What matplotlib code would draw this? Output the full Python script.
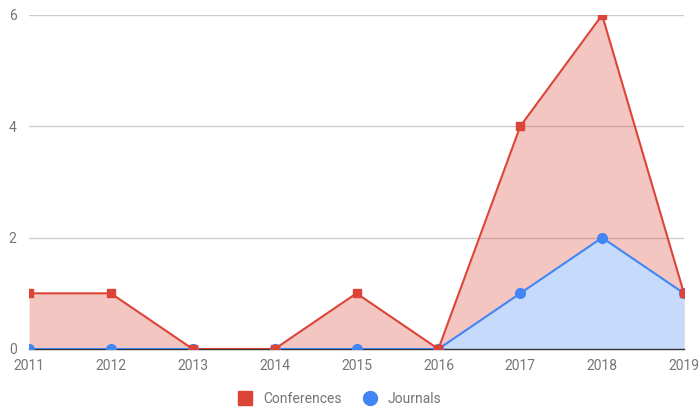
import matplotlib.pyplot as plt

years = [2011, 2012, 2013, 2014, 2015, 2016, 2017, 2018, 2019]
conferences = [1, 1, 0, 0, 1, 0, 4, 6, 1]
journals = [0, 0, 0, 0, 0, 0, 1, 2, 1]
y_ticks = [0, 2, 4, 6]

red = '#DB4437'
blue = '#4285F4'
blue_fill = '#C6DAFC'
label_color = '#757575'

plt.rcParams['font.family'] = ['Roboto', 'DejaVu Sans']

fig = plt.figure(figsize=(6.99, 4.07), dpi=100)
ax = fig.add_axes([29 / 699, 58 / 407, 655 / 699, 334 / 407])

# areas first, then lines; conferences line ends up on top
ax.fill_between(years, 0, conferences, color=red, alpha=0.3, linewidth=0, zorder=1)
ax.fill_between(years, 0, journals, color=blue_fill, linewidth=0, zorder=1.1)
ax.plot(years, conferences, color=red, linewidth=1.5, marker='s', markersize=5.5,
        label='Conferences', zorder=3)
ax.plot(years, journals, color=blue, linewidth=1.5, marker='o', markersize=7,
        label='Journals', zorder=2)

ax.set_xlim(years[0], years[-1])
ax.set_ylim(0, 6)
ax.set_xticks(years)
ax.set_yticks(y_ticks)
ax.tick_params(axis='both', length=0, labelsize=10, labelcolor=label_color)
ax.tick_params(axis='x', pad=7)
ax.tick_params(axis='y', pad=9)

ax.grid(axis='y', color='#cccccc', linewidth=1)
ax.set_axisbelow(True)
for side in ['top', 'right', 'left']:
    ax.spines[side].set_visible(False)
ax.spines['bottom'].set_color('#333333')
ax.spines['bottom'].set_linewidth(1)
ax.spines['bottom'].set_zorder(1.5)

leg = fig.legend(loc='center', bbox_to_anchor=(340 / 699, 1 - 399 / 407), ncol=2, frameon=False,
                 fontsize=10, handlelength=1.0, handletextpad=0.8, columnspacing=1.5)
for h in leg.legend_handles:
    h.set_linestyle('None')
    h.set_markersize(10)
for t in leg.get_texts():
    t.set_color(label_color)

plt.savefig('out.png', dpi=100)
